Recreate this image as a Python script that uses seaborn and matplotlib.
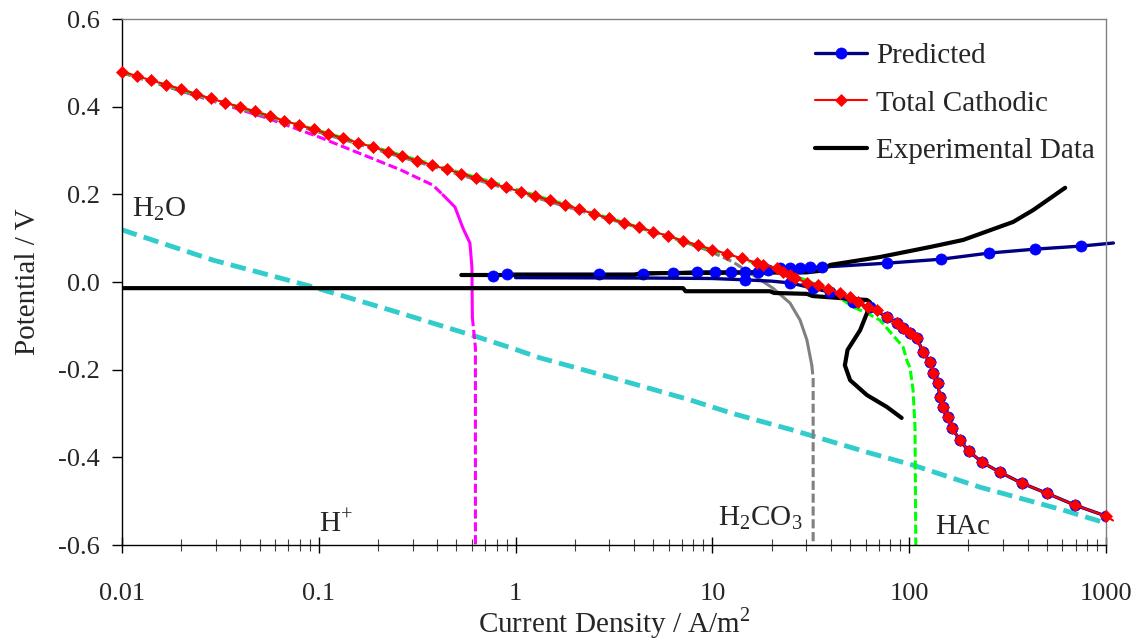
import numpy as np
import pandas as pd
import seaborn as sns
import matplotlib.pyplot as plt
from matplotlib.ticker import LogLocator, NullFormatter

# ---- data (current density A/m2, potential V) ----
# total cathodic (red diamonds)
tc_i = [0.010, 0.0119, 0.0141, 0.0168, 0.0200, 0.0237, 0.0282, 0.0335, 0.0398, 0.0473,
        0.0562, 0.0668, 0.0794, 0.0944, 0.112, 0.133, 0.158, 0.188, 0.224, 0.266,
        0.316, 0.376, 0.447, 0.531, 0.631, 0.750, 0.891, 1.06, 1.26, 1.50,
        1.78, 2.11, 2.51, 2.99, 3.55, 4.22, 5.01, 5.96, 7.08, 8.41,
        10.0, 11.9, 14.1, 16.8, 18.1, 21.3, 22.8, 24.8, 26.3, 30.3,
        34.4, 38.7, 44.5, 50.0, 54.9, 61.8, 68.6, 77.1, 86.7, 93.0,
        100.9, 109.6, 117.5, 127.6, 132, 140, 143, 148.5, 157, 165,
        181, 201, 234, 289, 374, 501, 695, 1000, 1085]
tc_v = [0.480, 0.470, 0.460, 0.450, 0.440, 0.429, 0.419, 0.409, 0.399, 0.389,
        0.379, 0.368, 0.358, 0.348, 0.338, 0.328, 0.318, 0.308, 0.297, 0.287,
        0.277, 0.267, 0.257, 0.247, 0.237, 0.226, 0.216, 0.206, 0.196, 0.186,
        0.176, 0.166, 0.155, 0.145, 0.135, 0.125, 0.115, 0.105, 0.094, 0.084,
        0.074, 0.064, 0.054, 0.044, 0.039, 0.032, 0.023, 0.016, 0.009, -0.002,
        -0.007, -0.016, -0.025, -0.034, -0.046, -0.057, -0.064, -0.080, -0.094, -0.105,
        -0.116, -0.128, -0.160, -0.183, -0.208, -0.231, -0.263, -0.285, -0.308, -0.333,
        -0.361, -0.386, -0.411, -0.434, -0.459, -0.482, -0.509, -0.534, -0.544]

# predicted, cathodic branch
pc_i = [1.0, 5.0, 10.0, 14.6, 20.0, 24.8, 32.4, 39.5, 51.8, 63.0,
        77.1, 86.7, 93.0, 100.9, 109.6, 117.5, 127.6, 132, 140, 143,
        148.5, 157, 165, 181, 201, 234, 289, 374, 501, 695, 1000]
pc_v = [0.010, 0.009, 0.008, 0.005, 0.002, -0.002, -0.014, -0.023, -0.046, -0.057,
        -0.080, -0.094, -0.105, -0.116, -0.128, -0.160, -0.183, -0.208, -0.231, -0.263,
        -0.285, -0.308, -0.333, -0.361, -0.386, -0.411, -0.434, -0.459, -0.482, -0.509, -0.534]
# predicted, anodic branch
pa_i = [0.77, 0.90, 2.65, 4.44, 6.3, 8.4, 10.3, 12.4, 14.6, 17.1, 19.2, 22.0, 24.8,
        27.9, 31.3, 36.0, 77, 145, 254, 436, 747, 1090]
pa_v = [0.014, 0.018, 0.018, 0.018, 0.021, 0.023, 0.023, 0.023, 0.023, 0.023, 0.027, 0.032, 0.032,
        0.032, 0.034, 0.034, 0.043, 0.052, 0.066, 0.075, 0.082, 0.089]

# experimental data
ex_lo_i = [0.008, 7.1, 7.3, 19.6, 20.6, 30.2, 32.3, 61, 63.2, 61, 56.3, 48.6, 47.1,
           50.1, 61, 77, 91.5]
ex_lo_v = [-0.014, -0.014, -0.021, -0.021, -0.025, -0.027, -0.032, -0.041, -0.046, -0.071,
           -0.11, -0.155, -0.19, -0.224, -0.258, -0.285, -0.31]
ex_hi_i = [0.53, 4.0, 4.3, 30, 36, 39.6, 71, 128, 188, 337, 426, 620]
ex_hi_v = [0.016, 0.016, 0.020, 0.022, 0.026, 0.039, 0.057, 0.080, 0.096, 0.137, 0.164, 0.215]

# species contributions
h2o_i = [0.01, 0.029, 0.0614, 0.093, 0.26, 0.637, 0.96, 1.33, 3.13, 7.7, 12.7, 25.7,
         63, 105, 229, 603, 966]
h2o_v = [0.119, 0.050, 0.011, -0.011, -0.071, -0.125, -0.151, -0.173, -0.219, -0.269,
         -0.30, -0.338, -0.39, -0.418, -0.468, -0.52, -0.548]
hp_i = [0.01, 0.0546, 0.1, 0.26, 0.38, 0.427, 0.492, 0.54, 0.586, 0.60, 0.603, 0.625, 0.625]
hp_v = [0.478, 0.374, 0.331, 0.256, 0.221, 0.199, 0.171, 0.123, 0.089, 0.034, -0.08, -0.15, -0.6]
h2co3_i = [0.01, 1.68, 4.29, 6.3, 9.4, 12.7, 16.1, 20.3, 24.8, 27.9, 30.2, 32.0, 32.5, 32.5]
h2co3_v = [0.477, 0.176, 0.123, 0.10, 0.073, 0.046, 0.016, -0.014, -0.048, -0.087, -0.132,
           -0.19, -0.22, -0.6]
hac_i = [0.01, 1.0, 10.0, 20.0, 30.0, 40.0, 51.8, 61, 71, 80, 93, 97.5, 101, 104.6, 107, 108]
hac_v = [0.479, 0.212, 0.073, 0.032, 0.004, -0.022, -0.057, -0.071, -0.087, -0.114, -0.148,
         -0.18, -0.196, -0.247, -0.33, -0.6]

x_ticks = [0.01, 0.1, 1, 10, 100, 1000]
x_labels = ['0.01', '0.1', '1', '10', '100', '1000']
y_ticks = [-0.6, -0.4, -0.2, 0.0, 0.2, 0.4, 0.6]
y_labels = ['-0.6', '-0.4', '-0.2', '0.0', '0.2', '0.4', '0.6']

sns.set_style("white")
plt.rcParams['font.family'] = ['Liberation Serif', 'DejaVu Serif']
plt.rcParams['mathtext.fontset'] = 'custom'
plt.rcParams['mathtext.rm'] = 'Liberation Serif'
plt.rcParams['axes.unicode_minus'] = False
plt.rcParams['xtick.bottom'] = True
plt.rcParams['ytick.left'] = True

fig = plt.figure(figsize=(11.42, 6.4), dpi=100)
ax = fig.add_axes([0.1068, 0.1484, 0.8617, 0.8219])
ax.set_xscale('log')
ax.set_xlim(0.01, 1000)
ax.set_ylim(-0.6, 0.6)


def draw(xs, ys, **kw):
    sns.lineplot(x=xs, y=ys, sort=False, estimator=None, ax=ax, **kw)
    return ax.lines[-1]


dash = (0, (3.0, 1.2))

# cyan H2O
draw(h2o_i, h2o_v, color='#33CCCC', lw=3.5, linestyle=(0, (3.2, 1.5)), zorder=2)
# magenta H+ : dashed / solid bend / dashed
draw(hp_i[:6], hp_v[:6], color='#FF00FF', lw=2.2, linestyle=dash, zorder=2)
draw(hp_i[5:11], hp_v[5:11], color='#FF00FF', lw=2.2, zorder=2)
draw(hp_i[10:], hp_v[10:], color='#FF00FF', lw=2.2, linestyle=dash, zorder=2)
# grey H2CO3
draw(h2co3_i[:7], h2co3_v[:7], color='#808080', lw=2.2, linestyle=dash, zorder=2)
draw(h2co3_i[6:12], h2co3_v[6:12], color='#808080', lw=2.2, zorder=2)
draw(h2co3_i[11:], h2co3_v[11:], color='#808080', lw=2.2, linestyle=dash, zorder=2)
# green HAc
draw(hac_i, hac_v, color='#00FF00', lw=2.2, linestyle=dash, zorder=2)

# predicted anodic line beneath the experimental data
draw(pa_i, pa_v, color='#000080', lw=2.4, zorder=2.5, clip_on=False)

# experimental
h_exp = draw(ex_lo_i, ex_lo_v, color='black', lw=3, zorder=3)
draw(ex_hi_i, ex_hi_v, color='black', lw=3, zorder=3)

# predicted markers
draw(pa_i[:-1], pa_v[:-1], color='#0000FF', linestyle='none', marker='o', ms=8,
     markeredgecolor='#0000FF', markeredgewidth=0.5, zorder=4)
h_pred = draw(pc_i, pc_v, color='#000080', lw=2.4, marker='o', ms=8,
              markerfacecolor='#0000FF', markeredgecolor='#0000FF', markeredgewidth=0.5,
              markevery=[3] + list(range(5, len(pc_i))), zorder=4)

# total cathodic
h_tc = draw(tc_i, tc_v, color='#FF0000', lw=1.5, marker='D', ms=6.5,
            markeredgecolor='#FF0000', markeredgewidth=0.5,
            markevery=list(range(len(tc_i) - 1)), zorder=5, clip_on=False)

# species labels
lab_kw = dict(fontsize=21, va='center', ha='left')
ax.text(0.0112, 0.167, r'H$_\mathregular{2}$O', **lab_kw)
ax.text(0.1, -0.552, r'H$^\mathregular{+}$', **lab_kw)
ax.text(10.7, -0.539, r'H$_\mathregular{2}$CO$_\mathregular{3}$', **lab_kw)
ax.text(135, -0.558, 'HAc', **lab_kw)

# axes styling
for side in ['top', 'right']:
    ax.spines[side].set_color('#808080')
    ax.spines[side].set_linewidth(1)
for side in ['left', 'bottom']:
    ax.spines[side].set_color('black')
    ax.spines[side].set_linewidth(1)

ax.set_xticks(x_ticks)
ax.set_xticklabels(x_labels)
ax.xaxis.set_minor_locator(LogLocator(base=10, subs=np.arange(2, 10)))
ax.xaxis.set_minor_formatter(NullFormatter())
ax.set_yticks(y_ticks)
ax.set_yticklabels(y_labels)
ax.tick_params(axis='x', which='major', direction='inout', length=11, width=1,
               color='black', labelsize=19, pad=22, bottom=True)
ax.tick_params(axis='x', which='minor', direction='inout', length=8.5, width=0.8,
               color='#404040', bottom=True)
ax.tick_params(axis='y', which='major', direction='out', length=7, width=1,
               color='black', labelsize=19, pad=9, left=True)

ax.set_xlabel(r'Current Density / A/m$^\mathregular{2}$', fontsize=21, labelpad=0)
ax.set_ylabel('Potential / V', fontsize=21, labelpad=12)

ax.legend([h_pred, h_tc, h_exp], ['Predicted', 'Total Cathodic', 'Experimental Data'],
          loc='upper left', bbox_to_anchor=(0.704, 0.955), frameon=False, fontsize=21,
          borderpad=0, borderaxespad=0, handlelength=1.8, handletextpad=0.3,
          labelspacing=0.72, markerscale=1)

fig.savefig('out.png', dpi=100)
